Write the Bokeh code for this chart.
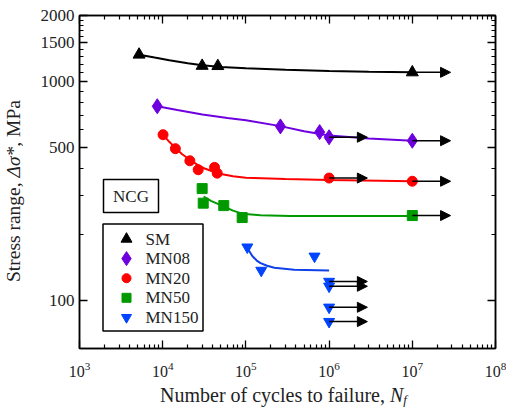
import math
from bokeh.plotting import figure
from bokeh.layouts import row, column
from bokeh.models import (FixedTicker, BasicTickFormatter, LogAxis, Div,
                          Arrow, NormalHead, BoxAnnotation, Label, Range1d)
from bokeh.core.properties import value
from bokeh.embed import file_html
from bokeh.resources import INLINE

# ---------------- data ----------------
series_names = ["SM", "MN08", "MN20", "MN50", "MN150"]

sm_N = [5200, 29800, 46000, 1.0e7]
sm_S = [1325, 1178, 1175, 1100]
sm_fit_N = [5200, 8000, 1.2e4, 2e4, 3e4, 5e4, 1e5, 3e5, 1e6, 3e6, 1e7]
sm_fit_S = [1325, 1285, 1250, 1210, 1185, 1165, 1148, 1130, 1115, 1106, 1100]

mn08_N = [8600, 2.6e5, 7.7e5, 1.0e6, 1.0e7]
mn08_S = [770, 623, 587, 556, 536]
mn08_fit_N = [8600, 1.5e4, 3e4, 6e4, 1e5, 2.6e5, 5e5, 1e6, 3e6, 1e7]
mn08_fit_S = [770, 740, 707, 680, 664, 625, 592, 566, 548, 536]

mn20_N = [10100, 14200, 21200, 26700, 42000, 45200, 1.0e6, 1.0e7]
mn20_S = [571, 493, 434, 395, 405, 381, 362, 350]
mn20_fit_N = [10100, 12000, 14200, 17000, 21000, 26000, 32000, 45000, 7e4, 1e5, 3e5, 1e6, 1e7]
mn20_fit_S = [571, 530, 497, 466, 440, 417, 400, 381, 369, 363, 358, 355, 350]

mn50_N = [29800, 30700, 54200, 90200, 1.0e7]
mn50_S = [324, 278, 271, 239, 244]
mn50_fit_N = [31000, 38000, 46000, 54000, 70000, 90000, 1.5e5, 3.4e5, 1e6, 1e7]
mn50_fit_S = [298, 285, 276, 269, 257, 249, 245, 243, 243, 243]

mn150_N = [1.04e5, 1.53e5, 6.68e5, 1.0e6, 1.0e6, 1.0e6, 1.0e6]
mn150_S = [175, 137, 159, 122, 116, 93, 80]
mn150_fit_N = [1.04e5, 1.12e5, 1.2e5, 1.35e5, 1.5e5, 1.8e5, 2.2e5, 3.8e5, 1.0e6]
mn150_fit_S = [174, 166, 159, 152, 148, 144, 141, 138, 137]

runout_N = [1e7, 1e6, 1e7, 1e6, 1e7, 1e7, 1e6, 1e6, 1e6, 1e6]
runout_S = [1100, 556, 536, 362, 350, 244, 122, 116, 93, 80]

x_major = [1e3, 1e4, 1e5, 1e6, 1e7, 1e8]
y_major = [100, 500, 1000, 1500, 2000]
y_minor = [200, 300, 400, 600, 700, 800, 900, 1100, 1200, 1300, 1400,
           1600, 1700, 1800, 1900]

x_title_html = ("Number of cycles to failure, <i>N<span style='font-size:13px;"
                "vertical-align:-2px;'>f</span></i>")
y_title_html = "Stress range, <i>\u0394\u03c3*</i>, MPa"
box_text = "NCG"

colors = ["#000000", "#6E00E0", "#FF0000", "#009A00", "#0044FF"]
line_colors = ["#000000", "#6E00E0", "#FF0000", "#009A00", "#1040E8"]
markers = ["triangle", "diamond", "circle", "square", "inverted_triangle"]
sizes = [12, 15, 10, 10, 11]

SERIF = "Liberation Serif"

# page geometry (pixels)
W, H = 506, 409
YLAB_W = 25            # width of the strip holding the y title
PLOT_H = 385           # height of the figure (the x title sits below it)
L, R, T, B = 79, 495, 15, 348   # frame edges in page pixels
X0, X1 = 1e3, 1e8
Y0, Y1 = 60.3, 2000


def xd(px):
    return 10 ** (math.log10(X0) + (px - L) / (R - L) * (math.log10(X1) - math.log10(X0)))


def yd(py):
    return 10 ** (math.log10(Y1) - (py - T) / (B - T) * (math.log10(Y1) - math.log10(Y0)))


p = figure(width=W - YLAB_W, height=PLOT_H, x_axis_type="log", y_axis_type="log",
           x_range=Range1d(X0, X1), y_range=Range1d(Y0, Y1),
           output_backend="svg", toolbar_location=None,
           min_border_left=L - YLAB_W, min_border_right=W - R,
           min_border_top=T, min_border_bottom=PLOT_H - B)
p.grid.visible = False
p.outline_line_color = "black"
p.outline_line_width = 1.5
p.background_fill_color = "white"
p.border_fill_color = "white"

x_minor = [m * d for d in x_major[:-1] for m in range(2, 10)]

# axes
p.xaxis.ticker = FixedTicker(ticks=x_major, minor_ticks=x_minor)
p.yaxis.ticker = FixedTicker(ticks=y_major, minor_ticks=y_minor)
p.yaxis.formatter = BasicTickFormatter()

for ax in [p.xaxis[0], p.yaxis[0]]:
    ax.axis_line_color = "black"
    ax.axis_line_width = 1.5
    ax.major_tick_line_color = "black"
    ax.minor_tick_line_color = "black"
    ax.major_tick_line_width = 1.3
    ax.minor_tick_line_width = 1.2
    ax.major_tick_in = 8
    ax.major_tick_out = 0
    ax.minor_tick_in = 4
    ax.minor_tick_out = 0
    ax.major_label_text_font = SERIF
    ax.major_label_text_color = "#222222"

p.xaxis.major_label_text_font_size = "16px"
p.xaxis.major_label_standoff = 13
p.yaxis.major_label_text_font_size = "17px"
p.yaxis.major_label_standoff = 5

for loc, src in [("above", p.xaxis[0]), ("right", p.yaxis[0])]:
    ax = LogAxis(ticker=src.ticker, axis_line_color="black", axis_line_width=1.5,
                 major_tick_line_color="black", minor_tick_line_color="black",
                 major_tick_line_width=1.3, minor_tick_line_width=1.2,
                 major_tick_in=8, major_tick_out=0, minor_tick_in=4, minor_tick_out=0,
                 major_label_text_font_size="1px", major_label_text_alpha=0,
                 major_label_standoff=0)
    if loc == "right":
        ax.formatter = BasicTickFormatter()
    p.add_layout(ax, loc)

# curves and points
data = [(sm_N, sm_S, sm_fit_N, sm_fit_S),
        (mn08_N, mn08_S, mn08_fit_N, mn08_fit_S),
        (mn20_N, mn20_S, mn20_fit_N, mn20_fit_S),
        (mn50_N, mn50_S, mn50_fit_N, mn50_fit_S),
        (mn150_N, mn150_S, mn150_fit_N, mn150_fit_S)]

for i, (n, s, fn, fs) in enumerate(data):
    p.line(fn, fs, line_color=line_colors[i], line_width=2)
for i, (n, s, fn, fs) in enumerate(data):
    p.scatter(n, s, marker=markers[i], size=sizes[i],
              fill_color=colors[i], line_color=colors[i])

# run-out arrows
arrow_decades = 0.46
for n, s in zip(runout_N, runout_S):
    p.add_layout(Arrow(end=NormalHead(size=10, fill_color="black", line_color="black"),
                       x_start=n, y_start=s, x_end=n * 10 ** arrow_decades, y_end=s,
                       line_color="black", line_width=1.5))

# NCG box
p.add_layout(BoxAnnotation(left=xd(103), right=xd(158), top=yd(179), bottom=yd(212),
                           fill_alpha=0, line_color="black", line_width=1.5, line_alpha=1))
p.add_layout(Label(x=xd(130.5), y=yd(196), text=box_text, text_align="center",
                   text_baseline="middle", text_font=SERIF, text_font_size="17px",
                   text_color="#222222"))

# legend (drawn by hand so that rows and marker sizes match)
leg_top, leg_bottom, leg_left, leg_right = 223.5, 330.5, 102.5, 202.5
row0, row_step = 238.5, 19.6
p.add_layout(BoxAnnotation(left=xd(leg_left), right=xd(leg_right), top=yd(leg_top),
                           bottom=yd(leg_bottom), fill_alpha=0, line_color="black",
                           line_width=1.5, line_alpha=1))
for i in range(5):
    ry = yd(row0 + i * row_step)
    p.scatter([xd(126)], [ry], marker=markers[i], size=sizes[i] - 1,
              fill_color=colors[i], line_color=colors[i])
p.text(x=[xd(145)] * 5, y=[yd(row0 + i * row_step) for i in range(5)],
       text=series_names, text_font=value(SERIF), text_font_size="17px",
       text_baseline="middle", text_align="left", text_color="#222222")

# axis titles with italic parts, as HTML text beside the figure
font_css = "font-family:'Liberation Serif',serif;color:#222222;white-space:nowrap;"
ydiv = Div(width=YLAB_W, height=H, margin=0,
           styles={"overflow": "visible"},
           text=("<div style=\"position:absolute;left:3px;top:282px;"
                 "transform-origin:0 0;transform:rotate(-90deg);"
                 + font_css + "font-size:19.5px;line-height:22px;\">"
                 + y_title_html + "</div>"))
xdiv = Div(width=W - YLAB_W, height=H - PLOT_H, margin=0,
           styles={"overflow": "visible"},
           text=("<div style=\"padding-left:" + str(160 - YLAB_W) + "px;padding-top:0px;"
                 + font_css + "font-size:20px;line-height:21px;\">"
                 + x_title_html + "</div>"))

layout = row(ydiv, column(p, xdiv, spacing=0), spacing=0)
open("out.html", "w").write(file_html(layout, INLINE))
